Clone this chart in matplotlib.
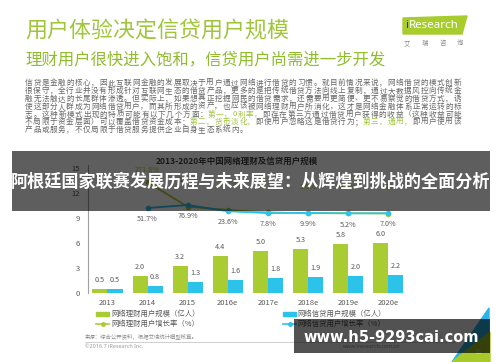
import numpy as np
import matplotlib
matplotlib.use('Agg')
import matplotlib.pyplot as plt
from matplotlib.patches import Rectangle, Polygon

plt.rcParams['font.family'] = ['Noto Sans CJK SC', 'DejaVu Sans']

# chart data
years = ['2013', '2014', '2015', '2016e', '2017e', '2018e', '2019e', '2020e']
wealth_users = [0.5, 2.0, 3.2, 4.4, 5.0, 5.3, 5.8, 6.0]   # 网络理财用户规模(亿人)
credit_users = [0.5, 0.8, 1.3, 1.6, 1.8, 1.9, 2.0, 2.2]   # 网络信贷用户规模(亿人)
wealth_growth = [271.8, 62.4, 34.7, 15.1, 5.6, 8.5, 4.2]  # % from 2014
credit_growth = [51.7, 76.9, 23.6, 7.8, 9.9, 5.2, 7.0]    # % from 2014
y_ticks = [0, 3, 6, 9, 12, 15]

green = '#a9cc33'
blue = '#2bc3ea'
gray = '#595959'
text_gray = '#666666'
title_green = '#9fc63a'

W, H = 500, 362
fig = plt.figure(figsize=(5, 3.62), dpi=100)

# background layer in pixel coordinates
bg = fig.add_axes([0, 0, 1, 1], zorder=0)
bg.set_xlim(0, W)
bg.set_ylim(H, 0)
bg.axis('off')

bg.text(25, 32, '用户体验决定信贷用户规模', fontsize=15.8, color=title_green, va='center')
bg.text(25, 60, '理财用户很快进入饱和，信贷用户尚需进一步开发', fontsize=11.8, color='#8fbd2e', va='center')

# logo
bg.add_patch(Polygon([(403, 18), (467, 16), (462, 34), (403, 34)], closed=True, color='#a8cb2e'))
bg.text(405, 26, 'i', fontsize=8.3, color='#1d3b70', fontweight='bold', va='center', family='Noto Sans')
bg.text(409, 26, 'Research', fontsize=8.3, color='white', va='center', family='Noto Sans')
for cx, ch in zip(np.linspace(407, 460, 4), '艾瑞咨询'):
    bg.text(cx, 43, ch, fontsize=4.6, color='#8a8a8a', ha='center', va='center')

# paragraph with highlighted runs, justified char by char
para = [
    [('信贷是金融的核心，因此互联网金融的发展取决于用户通过网络进行借贷的习惯。就目前情况来说，网络借贷的模式创新', text_gray)],
    [('很保守，全行业并没有形成针对互联网生态的借贷产品，更多的是把传统借贷方法向线上复制，通过大数据风控向传统金', text_gray)],
    [('融无法触达的长尾群体渗透。但实际上，如果想真正挖掘网民的借贷需求，还需要用更简便、更不易察觉的借贷方式，诱', text_gray)],
    [('使这部分人群成为网络借贷用户，而其所形成的资产，也应该被网络理财用户所消化，这才是网络金融体系正常运转的标', text_gray)],
    [('志。这种新模式出现的特质可能有以下几个方面：', text_gray), ('第一，0利率，', title_green),
     ('即存在第三方通过借贷用户获得的收益（这种收益可能', text_gray)],
    [('不局限于资金层面）可以覆盖借贷资金成本；', text_gray), ('第二，货币淡化，', title_green),
     ('即使用户忽略这是借贷行为；', text_gray), ('第三，通用，', title_green), ('即用户使用该', text_gray)],
    [('产品或服务，不仅局限于借贷服务提供企业自身生态系统内。', text_gray)],
]
renderer = fig.canvas.get_renderer()
left, right = 25, 461
track = 0.0
for i, line in enumerate(para):
    y0 = 83.3 + 7.8 * i
    chars = [(ch, c) for s, c in line for ch in s]
    objs = [bg.text(0, y0, ch, fontsize=5.5, color=c, va='center', ha='left') for ch, c in chars]
    widths = [t.get_window_extent(renderer).width for t in objs]
    if i < len(para) - 1:
        track = (right - left - sum(widths)) / (len(objs) - 1)
    x0 = left
    for t, w in zip(objs, widths):
        t.set_x(x0)
        x0 += w + track

# chart title
bg.text(236.5, 161, '2013-2020年中国网络理财及信贷用户规模', fontsize=6.1, fontweight='bold',
        color='#404040', ha='center', va='center')

# legend (drawn by hand)
bg.add_patch(Rectangle((96, 312), 13, 4.2, color=green))
bg.text(111, 314, '网络理财用户规模（亿人）', fontsize=5.3, color=gray, va='center')
bg.add_patch(Rectangle((283, 312), 13, 4.2, color=blue))
bg.text(297, 314, '网络信贷用户规模（亿人）', fontsize=5.3, color=gray, va='center')
bg.plot([96, 102.5, 109], [324.3] * 3, color=green, lw=1.2, marker='o', ms=2.5, markevery=[1])
bg.text(111, 324.3, '网络理财用户增长率（%）', fontsize=5.3, color=gray, va='center')
bg.plot([283, 289.5, 296], [324.3] * 3, color=blue, lw=1.2, marker='o', ms=2.5, markevery=[1])
bg.text(297, 324.3, '网络信贷用户增长率（%）', fontsize=5.3, color=gray, va='center')

# footer
bg.text(85, 336, '来源：综合公开资料，根据艾瑞统计模型核算。', fontsize=3.9, color='#8c8c8c', va='center')
bg.plot([85, 455], [341.7, 341.7], color='#c8c8c8', lw=0.6)
bg.text(85, 347, '©2016.7 iResearch Inc.', fontsize=3.9, color='#9a9a9a', va='center', family='Noto Sans')
bg.text(343, 347, 'www.iresearch.com.cn', fontsize=3.9, color='#9a9a9a', va='center', family='Noto Sans')
bg.add_patch(Polygon([(489, 308), (452, 362), (489, 362)], closed=True, color='#2ab4e6'))
bg.add_patch(Polygon([(452, 362), (490, 332), (490, 362)], closed=True, color='#a8c92a'))
bg.text(478, 352, '11', fontsize=5, color='#d0d0d0', ha='center', va='center')

# bar chart
ax = fig.add_axes([88 / W, 1 - 293 / H, (410 - 88) / W, 128 / H], zorder=1)
ax.patch.set_alpha(0)
x = np.arange(len(years))
bw = 0.375
ax.bar(x - bw / 2, wealth_users, bw, color=green)
ax.bar(x + bw / 2, credit_users, bw, color=blue)
for xi, v in zip(x, wealth_users):
    ax.annotate(f'{v:.1f}', (xi - bw / 2, v), xytext=(0, 6.5), textcoords='offset points',
                ha='center', va='center', fontsize=5.2, color=gray)
for xi, v in zip(x, credit_users):
    ax.annotate(f'{v:.1f}', (xi + bw / 2, v), xytext=(0, 6.5), textcoords='offset points',
                ha='center', va='center', fontsize=5.2, color=gray)

ax.set_xlim(-0.486, 7.544)
ax.set_ylim(0, 15.3)
ax.set_yticks(y_ticks)
ax.set_xticks(x, years)
ax.tick_params(axis='y', length=0, pad=5.5, labelsize=5.5, labelcolor=gray)
ax.tick_params(axis='x', length=0, pad=4.5, labelsize=5.5, labelcolor=gray)
for side in ['top', 'right', 'bottom']:
    ax.spines[side].set_visible(False)
ax.spines['left'].set_color('#a0a0a0')
ax.spines['left'].set_linewidth(0.8)

# growth rate lines on secondary scale
ax2 = ax.twinx()
ax2.set_ylim(-675, 419)
ax2.axis('off')
xg = x[1:]
ax2.plot(xg, wealth_growth, color=green, lw=1.3, marker='o', ms=3)
ax2.plot(xg, credit_growth, color=blue, lw=1.3, marker='o', ms=3)
for xi, v in zip(xg, wealth_growth):
    off = 9 if v > 100 else 19
    ax2.annotate(f'{v:.1f}%', (xi, v), xytext=(0, off), textcoords='offset points',
                 ha='center', va='center', fontsize=5.2, color=green)
for xi, v in zip(xg, credit_growth):
    ax2.annotate(f'{v:.1f}%', (xi, v), xytext=(0, -8), textcoords='offset points',
                 ha='center', va='center', fontsize=5.2, color=gray)

# overlay layer: banner and watermark
ov = fig.add_axes([0, 0, 1, 1], zorder=10)
ov.set_xlim(0, W)
ov.set_ylim(H, 0)
ov.axis('off')
ov.add_patch(Rectangle((12, 151), 478, 60, color='black', alpha=0.63, lw=0))
ov.text(251, 182, '阿根廷国家联赛发展历程与未来展望：从辉煌到挑战的全面分析', fontsize=12.3,
        fontweight='bold', color='white', ha='center', va='center')
ov.add_patch(Rectangle((294, 319), 196, 34, color='black', alpha=0.68, lw=0))
ov.text(391.5, 337, 'www.h5-9293cai.com', fontsize=10.5, fontweight='bold', color='white',
        ha='center', va='center', family='DejaVu Sans')

fig.savefig('out.png', dpi=100)
